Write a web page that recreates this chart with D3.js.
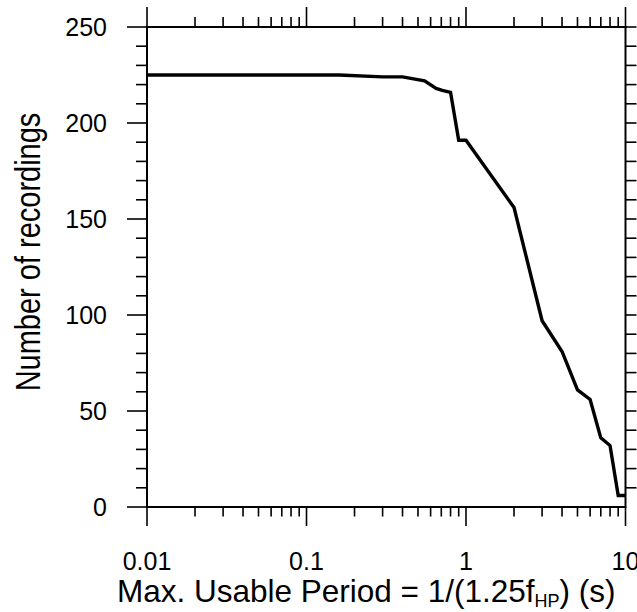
<!DOCTYPE html>
<html><head><meta charset="utf-8">
<script src="https://cdn.jsdelivr.net/npm/d3@7"></script>
<style>
html,body{margin:0;padding:0;background:#fff;}
svg{display:block;font-family:"Liberation Sans",Arial,sans-serif;}
</style></head>
<body><svg id="c" width="637" height="612"></svg>
<script>
// Data
const period = [0.01, 0.16, 0.3, 0.4, 0.55, 0.65, 0.71, 0.8, 0.9, 1.0, 2.0, 3.0, 4.0, 5.0, 6.0, 7.0, 8.0, 9.0, 10.0];
const recordings = [225, 225, 224, 224, 222, 218, 217, 216, 191, 191, 156, 97, 81, 61, 56, 36, 32, 6, 6];
const xTickLabels = ["0.01", "0.1", "1", "10"];
const xTickValues = [0.01, 0.1, 1, 10];
const yTickValues = [0, 50, 100, 150, 200, 250];

const svg = d3.select("#c");
const m = {l:147, t:27, r:625.5, b:507};
const x = d3.scaleLog().domain([0.01, 10]).range([m.l, m.r]);
const y = d3.scaleLinear().domain([0, 250]).range([m.b, m.t]);

const minorX = [];
[0.01, 0.1, 1].forEach(d => { for (let k = 2; k <= 9; k++) minorX.push(d * k); });
const minorY = d3.range(10, 251, 10).filter(v => v % 50 !== 0);

const g = svg.append("g").attr("stroke", "#000").attr("fill", "none");
function xt(vals, len, y0, dir) {
  g.selectAll(null).data(vals).enter().append("line")
    .attr("x1", d => x(d)).attr("x2", d => x(d))
    .attr("y1", y0).attr("y2", y0 + dir * len).attr("stroke-width", 1.6);
}
xt(minorX, 9.5, m.b, 1); xt(xTickValues, 19, m.b, 1);
xt(minorX, 10, m.t, -1); xt(xTickValues, 20, m.t, -1);
g.selectAll(null).data(minorY).enter().append("line")
  .attr("x1", m.l).attr("x2", m.l - 11).attr("y1", d => y(d)).attr("y2", d => y(d)).attr("stroke-width", 1.6);
g.selectAll(null).data(yTickValues).enter().append("line")
  .attr("x1", m.l).attr("x2", m.l - 20).attr("y1", d => y(d)).attr("y2", d => y(d)).attr("stroke-width", 1.6);
g.selectAll(null).data(d3.range(10, 251, 10)).enter().append("line")
  .attr("x1", m.r).attr("x2", m.r + 11).attr("y1", d => y(d)).attr("y2", d => y(d)).attr("stroke-width", 1.6);
g.append("rect").attr("x", m.l).attr("y", m.t).attr("width", m.r - m.l).attr("height", m.b - m.t).attr("stroke-width", 2);

const line = d3.line().x((d, i) => x(period[i])).y(d => y(d));
svg.append("path").datum(recordings).attr("d", line)
  .attr("fill", "none").attr("stroke", "#000").attr("stroke-width", 3.4).attr("stroke-linejoin", "miter");

svg.selectAll(null).data(yTickValues).enter().append("text")
  .attr("x", 107).attr("y", d => y(d)).attr("dy", "0.36em").attr("text-anchor", "end")
  .attr("font-size", 25).text(d => d);
svg.selectAll(null).data(xTickValues).enter().append("text")
  .attr("x", d => x(d)).attr("y", 570).attr("text-anchor", "middle")
  .attr("font-size", 25).text((d, i) => xTickLabels[i]);

const xt2 = svg.append("text").attr("x", 117).attr("y", 602).attr("text-anchor", "start").attr("font-size", 31.5);
xt2.append("tspan").text("Max. Usable Period = 1/(1.25f");
xt2.append("tspan").attr("font-size", 18).attr("dy", 5).text("HP");
xt2.append("tspan").attr("dy", -5).text(") (s)");
svg.append("text").attr("transform", "translate(39.5,252) rotate(-90) scale(1,1.2)").attr("text-anchor", "middle")
  .attr("font-size", 29).text("Number of recordings");
</script></body></html>
